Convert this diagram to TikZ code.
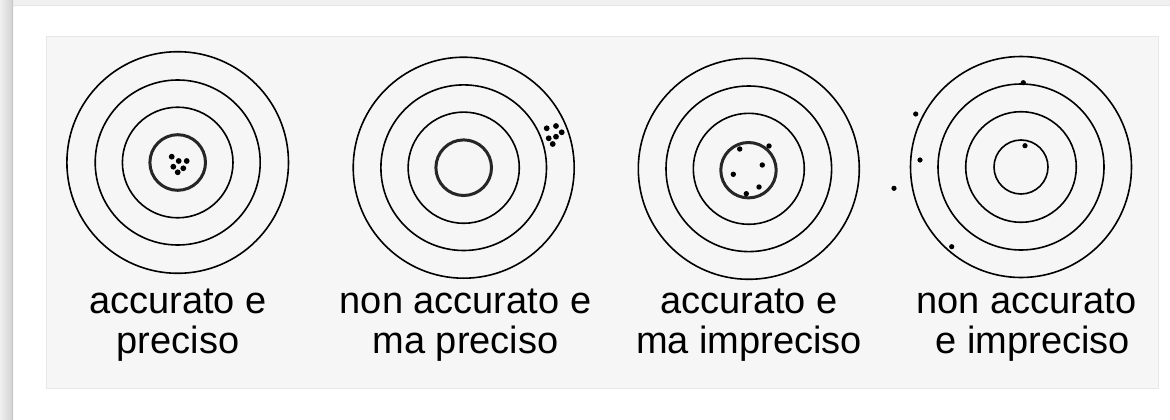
\documentclass[tikz,border=0pt]{standalone}
\usepackage{fontspec}
\setmainfont{Liberation Sans}
\begin{document}
\begin{tikzpicture}[x=1pt,y=-1pt,
  ring/.style={draw=black,line width=1.6pt},
  bull/.style={draw=black!85,line width=3pt},
  bullthin/.style={draw=black,line width=1.6pt},
  shot/.style={fill=black},
  lbl/.style={anchor=base,inner sep=0pt,text=black,font=\fontsize{38}{40}\selectfont}]
\useasboundingbox (0,0) rectangle (1170,420);
% page background
\fill[white] (0,0) rectangle (1170,420);
\fill[black!6] (13,0) rectangle (1170,5);
\draw[black!10,line width=0.6pt] (13,5) -- (1170,5);
\shade[left color=black!6,right color=black!18] (0,0) rectangle (13,420);
\fill[black!22] (11.5,0) rectangle (13,420);
% panel
\fill[black!3.5] (46,36) rectangle (1158,388);
\draw[black!9,line width=0.6pt] (46,36) rectangle (1158,388);
% target 1
\draw[ring] (177.7,162.5) circle (110.8pt);
\draw[ring] (177.7,162.5) circle (82.5pt);
\draw[ring] (177.7,162.5) circle (55.3pt);
\draw[bull] (177.7,162.5) circle (27.8pt);
\foreach \p in {(171.7,156.7),(178.7,161),(186.7,161),(173.3,166.7),(183.3,168.3),(177.7,172.3)}
  \fill[shot] \p circle (2.9pt);
% target 2
\draw[ring] (463.7,167.7) circle (110.5pt);
\draw[ring] (463.7,167.7) circle (82.8pt);
\draw[ring] (463.7,167.7) circle (55.6pt);
\draw[bull] (463.7,167.7) circle (27.8pt);
\foreach \p in {(546.7,128.3),(556,126),(561.7,132.3),(556,136.7),(548.7,138.3),(552.7,144)}
  \fill[shot] \p circle (2.9pt);
% target 3
\draw[ring] (748.8,168.8) circle (110.5pt);
\draw[ring] (748.8,168.8) circle (82.8pt);
\draw[ring] (748.8,168.8) circle (55.5pt);
\draw[bull] (748.5,170.2) circle (27.7pt);
\foreach \p in {(739.7,149),(769,146),(762.3,165),(733.3,174.3),(759,187),(746.3,193.7)}
  \fill[shot] \p circle (2.7pt);
% target 4
\draw[ring] (1021,167) circle (110.5pt);
\draw[ring] (1021,167) circle (83pt);
\draw[ring] (1021,167) circle (55.3pt);
\draw[bullthin] (1021,167) circle (27pt);
\foreach \p in {(1023.3,82.7),(915.7,114),(920,160),(894,188.3),(1025,145.7),(951.7,246.7)}
  \fill[shot] \p circle (2.6pt);
% labels
\node[lbl] (l1a) at (178,313) {accurato e};
\node[lbl] (l1b) at (178,353) {preciso};
\node[lbl] (l2a) at (465.5,313) {non accurato e};
\node[lbl] (l2b) at (465.5,353) {ma preciso};
\node[lbl] (l3a) at (749,313) {accurato e};
\node[lbl] (l3b) at (749,353) {ma impreciso};
\node[lbl] (l4a) at (1026.5,313) {non accurato};
\node[lbl] (l4b) at (1027.5,353) {\hspace*{0.278em}e impreciso};
\end{tikzpicture}
\end{document}
